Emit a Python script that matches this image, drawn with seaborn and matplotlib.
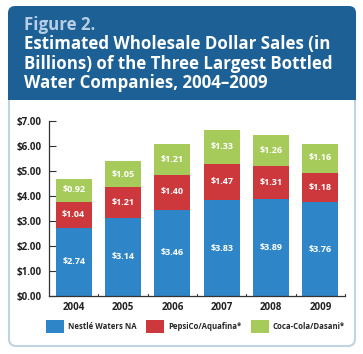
import matplotlib
matplotlib.use("Agg")
import matplotlib.pyplot as plt
import seaborn as sns
import pandas as pd
import numpy as np
from matplotlib.patches import FancyBboxPatch, Rectangle, Patch

years = ["2004", "2005", "2006", "2007", "2008", "2009"]
nestle = [2.74, 3.14, 3.46, 3.83, 3.89, 3.76]
pepsi = [1.04, 1.21, 1.40, 1.47, 1.31, 1.18]
coke = [0.92, 1.05, 1.21, 1.33, 1.26, 1.16]
series_names = ["Nestlé Waters NA", "PepsiCo/Aquafina*", "Coca-Cola/Dasani*"]
yticks = [0, 1, 2, 3, 4, 5, 6, 7]

BLUE = "#2e86c9"
RED = "#cc383c"
GREEN = "#a6cb5b"
HEADER = "#1d6096"
BORDER = "#bfd3e2"

sns.set_theme(style="white")
plt.rcParams["font.family"] = ["Open Sans", "DejaVu Sans"]

W, H = 363, 354
fig = plt.figure(figsize=(W / 100, H / 100), dpi=100)

def fx(px):
    return px / W

def fy(py):
    return 1 - py / H

# panel
panel = FancyBboxPatch((fx(9), fy(346)), fx(355) - fx(9), fy(7) - fy(346),
                       boxstyle="round,pad=0,rounding_size=0.02",
                       transform=fig.transFigure, facecolor="white",
                       edgecolor=BORDER, linewidth=1.5, zorder=0)
fig.patches.append(panel)
header = FancyBboxPatch((fx(8), fy(100)), fx(356) - fx(8), fy(6) - fy(100),
                        boxstyle="round,pad=0,rounding_size=0.02",
                        transform=fig.transFigure, facecolor=HEADER,
                        edgecolor="none", zorder=1)
fig.patches.append(header)
fig.patches.append(Rectangle((fx(8), fy(100)), fx(356) - fx(8), fy(80) - fy(100),
                             transform=fig.transFigure, facecolor=HEADER,
                             edgecolor="none", zorder=1))

fig.text(fx(24), fy(30), "Figure 2.", color="#b7cfe4", fontsize=12.2,
         fontweight="bold", va="baseline", ha="left", zorder=5)
for i, line in enumerate(["Estimated Wholesale Dollar Sales (in",
                          "Billions) of the Three Largest Bottled",
                          "Water Companies, 2004\u20132009"]):
    fig.text(fx(24), fy(49.5 + 19.5 * i), line, color="white", fontsize=12.2,
             fontweight="bold", va="baseline", ha="left", zorder=5)

ax = fig.add_axes([fx(49), fy(296), fx(345) - fx(49), fy(121) - fy(296)])
ax.set_zorder(3)
ax.set_facecolor("none")

df = pd.DataFrame({"year": years, "nestle": nestle, "pepsi": pepsi, "coke": coke})
df["c2"] = df["nestle"] + df["pepsi"]
df["c3"] = df["c2"] + df["coke"]

for col, color in [("c3", GREEN), ("c2", RED), ("nestle", BLUE)]:
    sns.barplot(data=df, x="year", y=col, color=color, width=0.73,
                saturation=1, ax=ax, edgecolor="none", linewidth=0)

for i in range(len(years)):
    bottoms = [0, nestle[i], nestle[i] + pepsi[i]]
    for b, v in zip(bottoms, [nestle[i], pepsi[i], coke[i]]):
        ax.text(i, b + v / 2, f"${v:.2f}", color="white", fontsize=6.5,
                fontweight="bold", ha="center", va="center")

ax.set_xlim(-0.5, 5.5)
ax.set_ylim(0, 7)
ax.set_yticks(yticks)
ax.set_yticklabels([f"${t:.2f}" for t in yticks], fontsize=7, fontweight="bold", color="#222222")
ax.set_xticks(np.arange(len(years)))
ax.set_xticklabels(years, fontsize=7, fontweight="bold", color="#222222")
ax.tick_params(axis="x", length=0, pad=4)
ax.tick_params(axis="y", direction="in", length=5, width=0.8, color="#333333", pad=5, left=True)
for xm in np.arange(0.5, 6.0, 1.0):
    ax.plot([xm, xm], [0, 0.1], color="#333333", lw=0.8, clip_on=False)
ax.set_xlabel("")
ax.set_ylabel("")
for s in ["top", "right"]:
    ax.spines[s].set_visible(False)
for s in ["left", "bottom"]:
    ax.spines[s].set_visible(True)
    ax.spines[s].set_color("#333333")
    ax.spines[s].set_linewidth(0.9)

handles = [Patch(facecolor=c, edgecolor="none") for c in [BLUE, RED, GREEN]]
leg = fig.legend(handles, series_names, loc="center", bbox_to_anchor=(fx(195.5), fy(326.5)),
                 ncol=3, frameon=False,
                 prop={"family": ["Open Sans", "DejaVu Sans"], "weight": "bold", "size": 5.6},
                 handlelength=2.3, handleheight=2.2, handletextpad=0.55, columnspacing=1.2)
leg.set_zorder(6)

fig.savefig("out.png", dpi=100)
